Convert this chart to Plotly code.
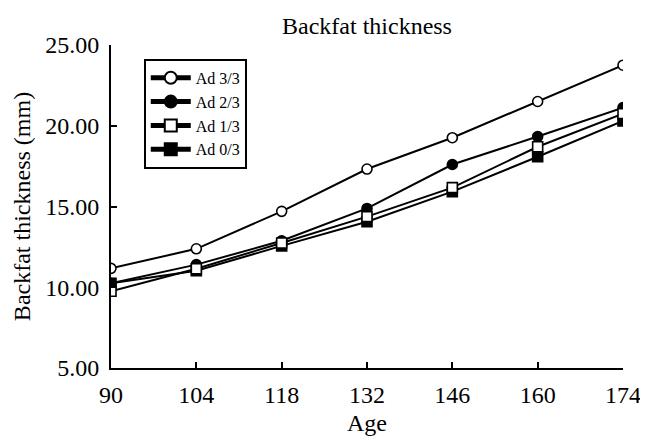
import plotly.graph_objects as go

age = [90, 104, 118, 132, 146, 160, 174]
ad33 = [11.17, 12.38, 14.70, 17.32, 19.26, 21.50, 23.75]
ad23 = [10.25, 11.40, 12.88, 14.88, 17.60, 19.33, 21.12]
ad13 = [9.75, 11.15, 12.74, 14.37, 16.17, 18.70, 20.75]
ad03 = [10.25, 11.02, 12.56, 14.06, 15.92, 18.08, 20.30]

yticks = [5, 10, 15, 20, 25]
FONT = "Liberation Serif"

fig = go.Figure()

series = [
    ("Ad 3/3", ad33, "circle", "white", 1),
    ("Ad 2/3", ad23, "circle", "black", 2),
    ("Ad 0/3", ad03, "square", "black", 4),
    ("Ad 1/3", ad13, "square", "white", 3),
]
for name, vals, sym, fill, rank in series:
    fig.add_trace(go.Scatter(
        x=age, y=vals, name=name, mode="lines+markers",
        line=dict(color="black", width=2),
        marker=dict(symbol=sym, size=10, color=fill,
                    line=dict(color="black", width=1.6)),
        legendrank=rank,
    ))

# figure sized so that, with the page's 8px body margin, it fits the 648x444 window
fig.update_layout(
    width=640, height=428,
    margin=dict(l=103, r=25, t=37, b=68),
    paper_bgcolor="white", plot_bgcolor="white",
    font=dict(family=FONT, size=24, color="black"),
    title=dict(text="Backfat thickness", x=0.5, xref="paper", xanchor="center",
               y=1 - 18 / 428, yref="container", yanchor="middle",
               font=dict(family=FONT, size=24, color="black")),
    showlegend=True,
    legend=dict(x=0.064, y=0.957, xanchor="left", yanchor="top",
                bordercolor="black", borderwidth=2, bgcolor="white",
                font=dict(family=FONT, size=16, color="black"),
                itemwidth=40,
                tracegroupgap=0, itemsizing="constant"),
)
fig.update_xaxes(
    range=[90, 174], tickvals=age, ticktext=[str(a) for a in age],
    showline=True, linecolor="black", linewidth=2, showgrid=False, zeroline=False,
    ticks="inside", ticklen=6, tickwidth=1.5, tickcolor="black",
    ticklabelstandoff=4, automargin=False,
    title=dict(text="Age", font=dict(family=FONT, size=24), standoff=10),
    tickfont=dict(family=FONT, size=24),
)
fig.update_yaxes(
    range=[5, 25], tickvals=yticks, ticktext=[f"{v:.2f}" for v in yticks],
    showline=True, linecolor="black", linewidth=2, showgrid=False, zeroline=False,
    ticks="inside", ticklen=6, tickwidth=1.5, tickcolor="black",
    ticklabelstandoff=5, automargin=False,
    title=dict(text="Backfat thickness (mm)", font=dict(family=FONT, size=24), standoff=8),
    tickfont=dict(family=FONT, size=24),
)

fig.write_html("out.html")
